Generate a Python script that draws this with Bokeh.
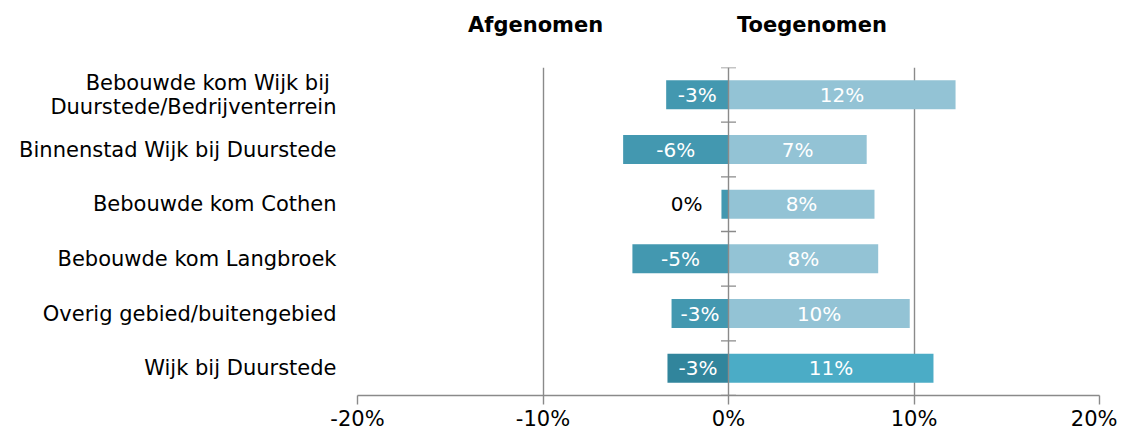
from bokeh.plotting import figure
from bokeh.models import ColumnDataSource, Span, LinearAxis, FixedTicker
from bokeh.core.properties import value
from bokeh.embed import file_html
from bokeh.resources import INLINE

# ---- data (top to bottom as shown) ----
categories = [
    "Bebouwde kom Wijk bij \nDuurstede/Bedrijventerrein",
    "Binnenstad Wijk bij Duurstede",
    "Bebouwde kom Cothen",
    "Bebouwde kom Langbroek",
    "Overig gebied/buitengebied",
    "Wijk bij Duurstede",
]
afgenomen = [-3.36, -5.68, -0.38, -5.18, -3.07, -3.29]
toegenomen = [12.24, 7.45, 7.87, 8.07, 9.77, 11.05]
x_ticks = [-20, -10, 0, 10, 20]
x_tick_labels = ["-20%", "-10%", "0%", "10%", "20%"]
headers = ["Afgenomen", "Toegenomen"]
header_x = [-10.4, 4.5]

# ---- styles ----
FONT = "DejaVu Sans"
FS = "20px"
GRAY = "#8a8a8a"
NEG = "#4398B0"
POS = "#93C3D5"
NEG_TOTAL = "#31859C"
POS_TOTAL = "#4BACC6"

n = len(categories)
ys = [n - 0.5 - i for i in range(n)]
neg_colors = [NEG_TOTAL if i == n - 1 else NEG for i in range(n)]
pos_colors = [POS_TOTAL if i == n - 1 else POS for i in range(n)]

p = figure(width=1117, height=433, x_range=(-20, 20), y_range=(0, n),
           output_backend="svg", toolbar_location=None,
           min_border_left=357, min_border_right=18, min_border_top=67,
           min_border_bottom=36)
p.outline_line_color = None
p.background_fill_color = "white"

src = ColumnDataSource(dict(y=ys, neg=afgenomen, pos=toegenomen,
                            nc=neg_colors, pc=pos_colors))
p.hbar(y="y", left="neg", right=0, height=0.53, fill_color="nc",
       line_color=None, source=src)
p.hbar(y="y", left=0, right="pos", height=0.53, fill_color="pc",
       line_color=None, source=src)

# value labels
lx, ly, lt, lc, la, lo = [], [], [], [], [], []
for y, v in zip(ys, afgenomen):
    if abs(v) < 1:
        lx.append(v); lc.append("black"); la.append("right"); lo.append(-19)
    else:
        lx.append(v / 2); lc.append("white"); la.append("center"); lo.append(0)
    ly.append(y); lt.append(f"{round(v)}%")
for y, v in zip(ys, toegenomen):
    lx.append(v / 2); ly.append(y); lt.append(f"{round(v)}%")
    lc.append("white"); la.append("center"); lo.append(0)
lsrc = ColumnDataSource(dict(x=lx, y=ly, t=lt, c=lc, a=la, o=lo))
p.text(x="x", y="y", text="t", text_color="c", text_align="a", x_offset="o",
       text_baseline="middle", text_font=value(FONT), text_font_size=FS,
       source=lsrc)

# zero axis line with category ticks
p.add_layout(Span(location=0, dimension="height", line_color=GRAY, line_width=1.4))
p.scatter(x=[0] * (n + 1), y=list(range(n + 1)), marker="dash", size=15,
          line_color=GRAY, line_width=1.4)

# grid
p.xgrid.ticker = [t for t in x_ticks if t != 0]
p.xgrid.grid_line_color = GRAY
p.xgrid.grid_line_width = 1.4
p.ygrid.grid_line_color = None

# x axis
p.xaxis.ticker = x_ticks
p.xaxis.major_label_overrides = {t: l for t, l in zip(x_ticks, x_tick_labels)}
p.xaxis.axis_line_color = GRAY
p.xaxis.axis_line_width = 1.4
p.xaxis.major_tick_line_color = GRAY
p.xaxis.major_tick_line_width = 1.4
p.xaxis.major_tick_out = 9
p.xaxis.major_tick_in = 0
p.xaxis.minor_tick_line_color = None
p.xaxis.major_label_standoff = 2
p.xaxis.major_label_text_font = FONT
p.xaxis.major_label_text_font_size = "21px"
p.xaxis.major_label_text_color = "black"

# y axis (category labels)
p.yaxis.ticker = ys
p.yaxis.major_label_overrides = {y: c for y, c in zip(ys, categories)}
p.yaxis.axis_line_color = None
p.yaxis.major_tick_line_color = None
p.yaxis.minor_tick_line_color = None
p.yaxis.major_label_standoff = 15
p.yaxis.major_label_text_font = FONT
p.yaxis.major_label_text_font_size = "21px"
p.yaxis.major_label_text_color = "black"
p.yaxis.major_label_text_line_height = 1.0

# column headers as a top axis
top = LinearAxis(ticker=FixedTicker(ticks=header_x),
                 major_label_overrides={x: h for x, h in zip(header_x, headers)})
top.axis_line_color = None
top.major_tick_line_color = None
top.minor_tick_line_color = None
top.major_label_standoff = 25
top.major_label_text_font = FONT
top.major_label_text_font_style = "bold"
top.major_label_text_font_size = "21px"
top.major_label_text_color = "black"
p.add_layout(top, "above")

open("out.html", "w").write(file_html(p, INLINE))
